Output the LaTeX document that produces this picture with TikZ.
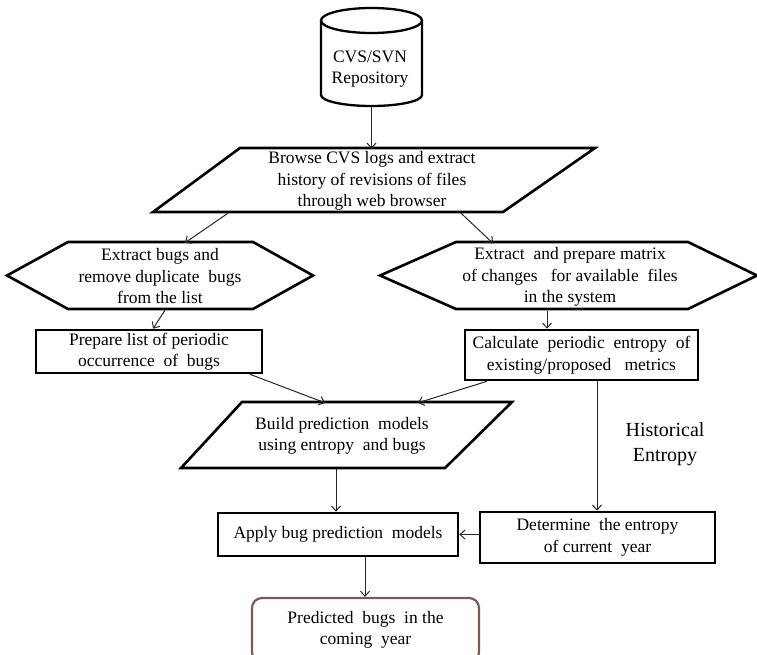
\documentclass[tikz,border=0pt]{standalone}
\usepackage{fontspec}
\setmainfont{Liberation Serif}
\usetikzlibrary{arrows.meta}

\definecolor{endbox}{RGB}{128,88,88}

\begin{document}
\begin{tikzpicture}[x=1pt,y=1pt,
  txt/.style={font=\fontsize{17.5}{21.5}\selectfont, align=center, text=black, inner sep=0pt},
  box/.style={txt, draw=black, line width=2.6pt},
  outline/.style={draw=black, line width=2.6pt, line join=miter},
  flow/.style={draw=black!85, line width=1pt, -{Straight Barb[length=5pt,width=9pt]}}
]
\useasboundingbox (0,0) rectangle (757,-655);

% repository cylinder
\node[txt, minimum width=101pt, minimum height=98pt] (repo) at (371.5,-57) {};
\node[txt] (repotext) at (370,-69) {CVS/SVN\\Repository};
\draw[line width=2.3pt] (371.5,-20.5) ellipse [x radius=50.5, y radius=12.5];
\draw[line width=2.3pt] (321,-20.5) -- (321,-95)
  arc [start angle=180, end angle=360, x radius=50.5, y radius=11] -- (422,-20.5);

% log browsing (parallelogram)
\node[txt, minimum width=442pt, minimum height=64pt] (browse) at (372,-181)
  {Browse CVS logs and extract\\history of revisions of files\\through web browser};
\draw[outline] (240,-148) -- (595,-148) -- (503,-212) -- (153,-212) -- cycle;

% bug extraction (hexagon)
\node[txt, minimum width=306pt, minimum height=67pt] (exbugs) at (160,-276.5)
  {Extract bugs and\\remove duplicate\ \ bugs\\from the list};
\draw[outline] (7,-275.5) -- (68,-242) -- (253,-242) -- (313,-275.5) -- (253,-309) -- (68,-309) -- cycle;

% change matrix (hexagon)
\node[txt, minimum width=377pt, minimum height=67pt] (matrix) at (570,-277)
  {Extract\ \ and prepare\ matrix\\of changes\ \ \ for available\ \ files\\in the system};
\draw[outline] (380,-275.5) -- (456,-242) -- (688,-242) -- (757,-275.5) -- (688,-309) -- (456,-309) -- cycle;

% periodic bug list
\node[box, minimum width=226pt, minimum height=43pt] (prepare) at (149,-351.5)
  {Prepare list of periodic\\occurrence\ \ of\ \ bugs};

% periodic entropy
\node[box, minimum width=233pt, minimum height=50pt] (calculate) at (581.5,-355)
  {Calculate\ \ periodic\ \ entropy\ \ of\\existing/proposed\ \ \ metrics};

% model building (parallelogram)
\node[txt, minimum width=331pt, minimum height=66pt] (build) at (342,-436)
  {Build prediction\ \ models\\using entropy\ \ and bugs};
\draw[outline] (242,-402) -- (512,-402) -- (445,-468) -- (181,-468) -- cycle;

% side label
\node[txt, font=\fontsize{20}{25}\selectfont] (hist) at (665,-444.5) {Historical\\Entropy};

% model application
\node[box, minimum width=240pt, minimum height=43pt] (apply) at (338,-534.5)
  {Apply bug prediction\ \ models};

% current-year entropy
\node[box, minimum width=235pt, minimum height=51pt] (determine) at (597.5,-537.5)
  {Determine\ \ the entropy\\of current\ \ year};

% result
\node[txt, draw=endbox, line width=2.2pt, rounded corners=10pt,
      minimum width=227pt, minimum height=64pt] (result) at (365.5,-630)
  {Predicted\ \ bugs\ \ in\ the\\coming\ \ year};

% connectors
\draw[flow] (repo.south) -- (repo.south |- browse.north);
\draw[flow] ([xshift=-144]browse.south) -- ([xshift=25]exbugs.north);
\draw[flow] ([xshift=89]browse.south) -- ([xshift=-77]matrix.north);
\draw[flow] ([xshift=5]exbugs.south) -- ([xshift=4]prepare.north);
\draw[flow] ([xshift=-23]matrix.south) -- ([xshift=-34.5]calculate.north);
\draw[flow] ([xshift=101]prepare.south) -- ([xshift=-17]build.north);
\draw[flow] ([xshift=-94.5]calculate.south) -- ([xshift=76]build.north);
\draw[flow] ([xshift=15.5]calculate.south) -- ([xshift=-0.5]determine.north);
\draw[flow] ([xshift=-6]build.south) -- ([xshift=-2]apply.north);
\draw[flow] (determine.west |- apply.east) -- (apply.east);
\draw[flow] ([xshift=27]apply.south) -- ([xshift=-0.5]result.north);
\end{tikzpicture}
\end{document}
